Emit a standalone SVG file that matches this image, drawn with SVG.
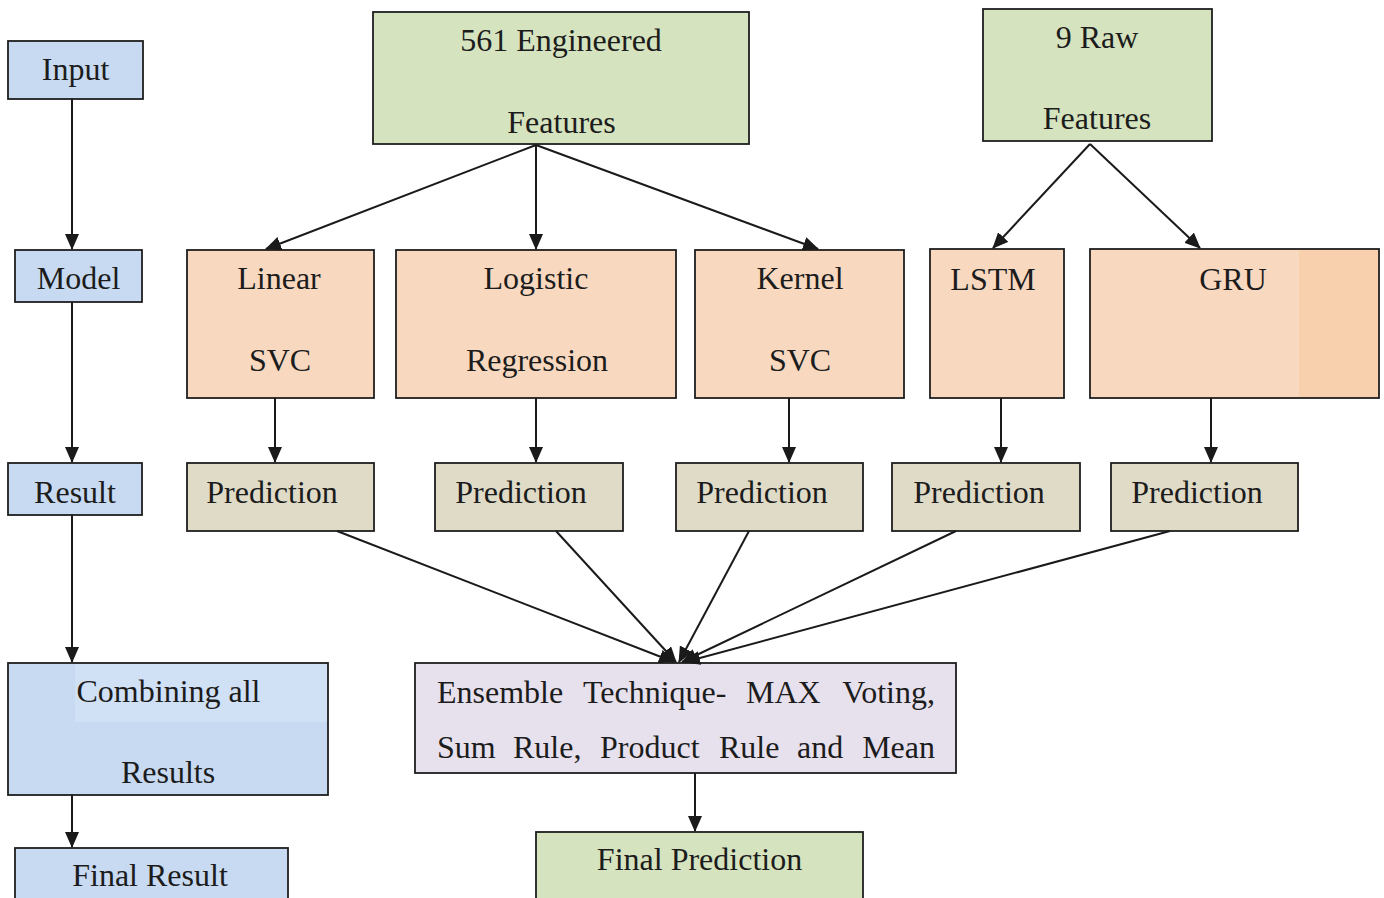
<svg xmlns="http://www.w3.org/2000/svg" width="1384" height="898" viewBox="0 0 1384 898">
<style>
.box{stroke:#1e1e1e;stroke-width:1.8}
.blue{fill:#c8daf1}
.green{fill:#d6e3bf}
.peach{fill:#f8d9c0}
.tan{fill:#dfdbc7}
.lav{fill:#e7e1ee}
text{font-family:"Liberation Serif","Times New Roman",serif;font-size:32px;fill:#1c1c1c}
.c{text-anchor:middle}
.e{text-anchor:end}
.conn line{stroke:#1a1a1a;stroke-width:2;marker-end:url(#ah)}
</style>
<defs>
<marker id="ah" viewBox="0 0 16 14" refX="15" refY="7" markerWidth="16" markerHeight="14" markerUnits="userSpaceOnUse" orient="auto">
<path d="M0,0 L16,7 L0,14 z" fill="#1a1a1a"/>
</marker>
</defs>
<rect width="1384" height="898" fill="#ffffff"/>

<g id="input"><rect class="box blue" x="8" y="41" width="135" height="58"/><text class="c" x="75.5" y="80">Input</text></g>
<g id="model"><rect class="box blue" x="15" y="250" width="127" height="52"/><text class="c" x="78.5" y="289">Model</text></g>
<g id="result"><rect class="box blue" x="8" y="463" width="134" height="52"/><text class="c" x="75" y="503">Result</text></g>
<g id="combining"><rect class="box blue" x="8" y="663" width="320" height="132"/><rect x="75" y="664" width="252" height="58" fill="#d0e0f5"/><text class="c" x="168.5" y="702">Combining all</text><text class="c" x="168" y="783">Results</text></g>
<g id="final-result"><rect class="box blue" x="15" y="848" width="273" height="60"/><text class="c" x="150" y="886">Final Result</text></g>

<g id="engineered"><rect class="box green" x="373" y="12" width="376" height="132"/><text class="c" x="561" y="51">561 Engineered</text><text class="c" x="561.5" y="133">Features</text></g>
<g id="raw"><rect class="box green" x="983" y="9" width="229" height="132"/><text class="c" x="1097" y="48">9 Raw</text><text class="c" x="1097" y="129">Features</text></g>

<g id="linear-svc"><rect class="box peach" x="187" y="250" width="187" height="148"/><text class="c" x="279" y="289">Linear</text><text class="c" x="280" y="371">SVC</text></g>
<g id="logistic"><rect class="box peach" x="396" y="250" width="280" height="148"/><text class="c" x="536" y="289">Logistic</text><text class="c" x="537" y="371">Regression</text></g>
<g id="kernel-svc"><rect class="box peach" x="695" y="250" width="209" height="148"/><text class="c" x="800" y="289">Kernel</text><text class="c" x="800" y="371">SVC</text></g>
<g id="lstm"><rect class="box peach" x="930" y="249" width="134" height="149"/><text class="c" x="993" y="290">LSTM</text></g>
<g id="gru"><rect class="box peach" x="1090" y="249" width="289" height="149"/><rect x="1299" y="250" width="79" height="147" fill="#f9d0ae"/><text class="c" x="1233" y="290">GRU</text></g>

<g id="pred1"><rect class="box tan" x="187" y="463" width="187" height="68"/><text class="c" x="272" y="503">Prediction</text></g>
<g id="pred2"><rect class="box tan" x="435" y="463" width="188" height="68"/><text class="c" x="521" y="503">Prediction</text></g>
<g id="pred3"><rect class="box tan" x="676" y="463" width="187" height="68"/><text class="c" x="762" y="503">Prediction</text></g>
<g id="pred4"><rect class="box tan" x="892" y="463" width="188" height="68"/><text class="c" x="979" y="503">Prediction</text></g>
<g id="pred5"><rect class="box tan" x="1111" y="463" width="187" height="68"/><text class="c" x="1197" y="503">Prediction</text></g>

<g id="ensemble"><rect class="box lav" x="415" y="663" width="541" height="110"/>
<text x="437" y="703">Ensemble</text><text x="583" y="703">Technique-</text><text x="746" y="703">MAX</text><text class="e" x="935" y="703">Voting,</text>
<text x="437" y="758">Sum</text><text x="513" y="758">Rule,</text><text x="600" y="758">Product</text><text x="719" y="758">Rule</text><text x="797" y="758">and</text><text class="e" x="935" y="758">Mean</text>
</g>
<g id="final-prediction"><rect class="box green" x="536" y="832" width="327" height="76"/><text class="c" x="699.5" y="870">Final Prediction</text></g>

<g id="connectors" class="conn">
<line x1="72" y1="99" x2="72" y2="249"/>
<line x1="72" y1="302" x2="72" y2="462"/>
<line x1="72" y1="515" x2="72" y2="662"/>
<line x1="72" y1="795" x2="72" y2="847"/>
<line x1="536" y1="145" x2="266" y2="249"/>
<line x1="536" y1="145" x2="536" y2="249"/>
<line x1="536" y1="145" x2="818" y2="249"/>
<line x1="1090" y1="144" x2="993" y2="248"/>
<line x1="1090" y1="144" x2="1200" y2="248"/>
<line x1="275" y1="398" x2="275" y2="462"/>
<line x1="536" y1="398" x2="536" y2="462"/>
<line x1="789" y1="398" x2="789" y2="462"/>
<line x1="1001" y1="398" x2="1001" y2="462"/>
<line x1="1211" y1="398" x2="1211" y2="462"/>
<line x1="337" y1="531" x2="674" y2="662"/>
<line x1="556" y1="531" x2="676" y2="662"/>
<line x1="749" y1="531" x2="679" y2="662"/>
<line x1="956" y1="531" x2="682" y2="662"/>
<line x1="1170" y1="531" x2="685" y2="662"/>
<line x1="695" y1="773" x2="695" y2="831"/>
</g>
</svg>
